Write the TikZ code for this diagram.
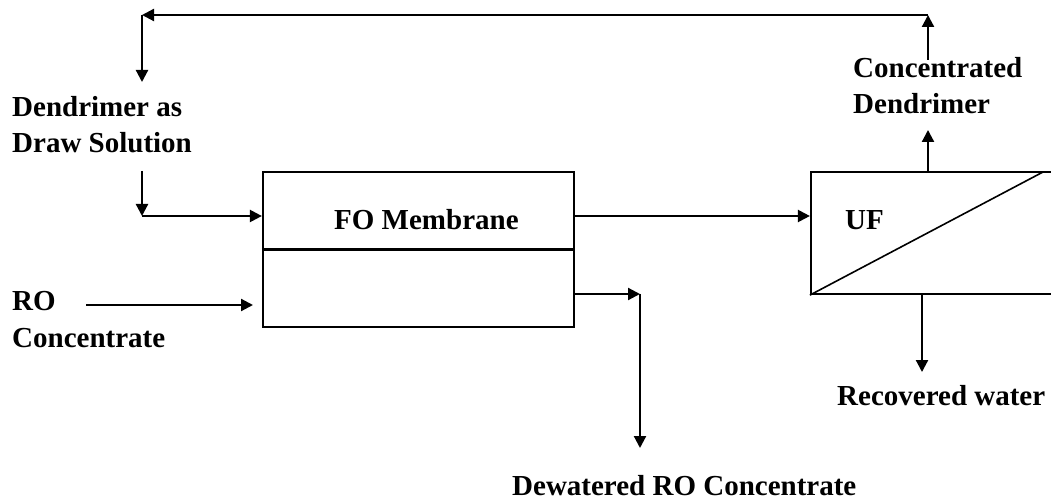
\documentclass[tikz,border=0pt]{standalone}
\usepackage{fontspec}
\setmainfont{Liberation Serif}
\usetikzlibrary{arrows.meta}
\begin{document}
\begin{tikzpicture}[x=1pt,y=-1pt,
  line/.style={line width=2.2pt},
  arr/.style={line, -{Triangle[length=12pt,width=12pt]}},
  lbl/.style={font=\bfseries\fontsize{29}{36}\selectfont, inner sep=0pt, align=left, anchor=base west},
  box/.style={draw, line width=2.2pt, inner sep=0pt}]
\clip (0,0) rectangle (1051,502);
% FO membrane box
\node[box, minimum width=311pt, minimum height=155pt] (fo) at (418.5,249.5) {};
\draw[line] (fo.west) -- (fo.east);
\node[lbl] (fot) at (334,230) {FO Membrane};
% UF box (extends past the right edge)
\node[box, minimum width=270pt, minimum height=122pt] (uf) at (946,233) {};
\coordinate (ufd) at (1043,172);
\draw[line, line width=1.6pt] (uf.south west) -- (ufd);
\node[lbl] (uft) at (845,230) {UF};
% labels (base = baseline of last line)
\node[lbl] (ds) at (12,153) {Dendrimer as\\Draw Solution};
\node[lbl] (ro) at (12,347) {RO\\Concentrate};
\node[lbl] (cd) at (853,114) {Concentrated\\Dendrimer};
\node[lbl] (rw) at (837,405) {Recovered water};
\node[lbl] (dw) at (512,495) {Dewatered RO Concentrate};
% coordinates
\coordinate (c1) at (928,60);
\coordinate (c2) at (928,15);
\coordinate (c3) at (142,15);
\coordinate (c4) at (142,82);
\coordinate (c5) at (142,171);
\coordinate (c6) at (142,216);
\coordinate (c7) at (86,305);
\coordinate (c8) at (253,305);
\coordinate (c9) at (640,294);
\coordinate (c10) at (640,448);
\coordinate (c11) at (922,372);
% connectors
\draw[arr] (uf.north -| c1) -- (928,130);
\draw[arr] (c1) -- (c2);
\draw[arr] (c2) -- (c3);
\draw[arr] (c3) -- (c4);
\draw[arr] (c5) -- (c6);
\draw[arr] (c6) -- (c6 -| fo.west);
\draw[arr] (c7) -- (c8);
\draw[arr] (c6 -| fo.east) -- (c6 -| uf.west);
\draw[arr] (c9 -| fo.east) -- (c9);
\draw[arr] (c9) -- (c10);
\draw[arr] (uf.south -| c11) -- (c11);
\end{tikzpicture}
\end{document}
